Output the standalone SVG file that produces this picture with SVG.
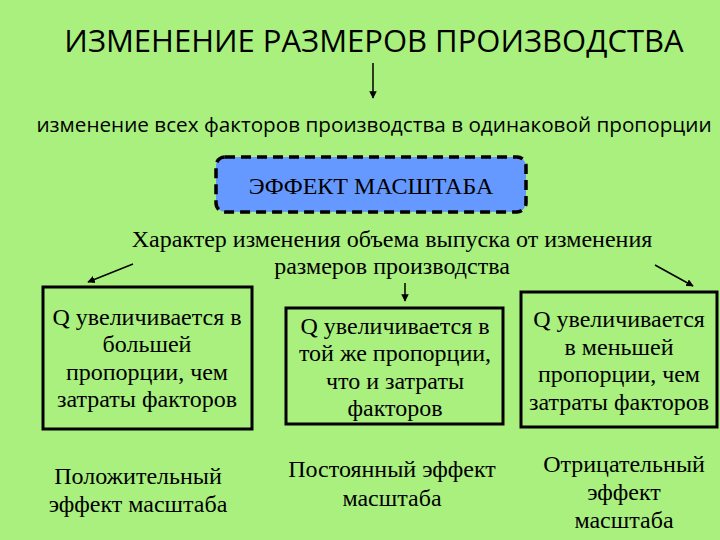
<svg xmlns="http://www.w3.org/2000/svg" width="720" height="540" viewBox="0 0 720 540">
<defs>
<marker id="ah" viewBox="0 0 10 10" refX="9" refY="5" markerWidth="5" markerHeight="5" orient="auto">
<path d="M0,0 L10,5 L0,10 z" fill="#000"/>
</marker>
<style>
.sans{font-family:"Open Sans","Liberation Sans",sans-serif;fill:#000}
.serif{font-family:"Liberation Serif","DejaVu Serif",serif;fill:#000;font-size:24px;text-anchor:middle}
.box{fill:none;stroke:#000;stroke-width:3}
.con{stroke:#000;stroke-width:1.5;fill:none;marker-end:url(#ah)}
</style>
</defs>
<rect width="720" height="540" fill="#A9F07F"/>
<g id="title"><text class="sans" x="374" y="52" font-size="31" text-anchor="middle">ИЗМЕНЕНИЕ РАЗМЕРОВ ПРОИЗВОДСТВА</text></g>
<g id="subtitle"><text class="sans" x="374" y="132" font-size="20.7" text-anchor="middle">изменение всех факторов производства в одинаковой пропорции</text></g>
<g id="effect">
<rect x="216" y="157" width="310" height="55" rx="9" fill="#6699FF" stroke="#000" stroke-width="3.5" stroke-dasharray="10,6"/>
<text class="serif" x="371" y="194">ЭФФЕКТ МАСШТАБА</text>
</g>
<g id="character">
<text class="serif" x="392" y="247">Характер изменения объема выпуска от изменения</text>
<text class="serif" x="392" y="274">размеров производства</text>
</g>
<g id="box-left">
<rect class="box" x="43" y="287" width="209" height="142"/>
<text class="serif" x="147" y="325">Q увеличивается в</text>
<text class="serif" x="147" y="352">большей</text>
<text class="serif" x="147" y="380">пропорции, чем</text>
<text class="serif" x="147" y="407">затраты факторов</text>
</g>
<g id="box-mid">
<rect class="box" x="286" y="308" width="217" height="116"/>
<text class="serif" x="395" y="334">Q увеличивается в</text>
<text class="serif" x="395" y="361">той же пропорции,</text>
<text class="serif" x="395" y="389">что и затраты</text>
<text class="serif" x="395" y="416">факторов</text>
</g>
<g id="box-right">
<rect class="box" x="521" y="292" width="196" height="135"/>
<text class="serif" x="619" y="327">Q увеличивается</text>
<text class="serif" x="619" y="355">в меньшей</text>
<text class="serif" x="619" y="382">пропорции, чем</text>
<text class="serif" x="619" y="410">затраты факторов</text>
</g>
<g id="result-left">
<text class="serif" x="138" y="484">Положительный</text>
<text class="serif" x="138" y="512">эффект масштаба</text>
</g>
<g id="result-mid">
<text class="serif" x="392" y="477">Постоянный эффект</text>
<text class="serif" x="392" y="506">масштаба</text>
</g>
<g id="result-right">
<text class="serif" x="624" y="472">Отрицательный</text>
<text class="serif" x="624" y="500">эффект</text>
<text class="serif" x="624" y="528">масштаба</text>
</g>
<g id="connectors">
<line class="con" x1="373" y1="63" x2="373" y2="98"/>
<line class="con" x1="133" y1="264" x2="88" y2="282"/>
<line class="con" x1="405" y1="283" x2="405" y2="301"/>
<line class="con" x1="655" y1="265" x2="693" y2="286"/>
</g>
</svg>
